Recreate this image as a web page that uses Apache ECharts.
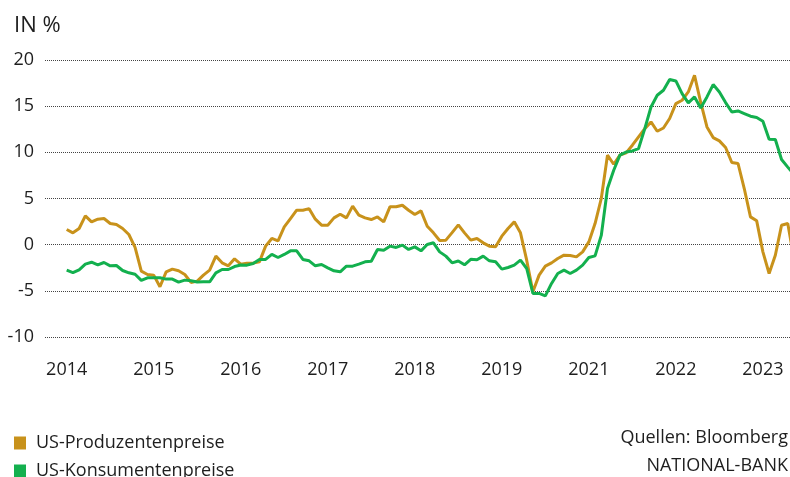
<!DOCTYPE html>
<html>
<head>
<meta charset="utf-8">
<script src="https://cdn.jsdelivr.net/npm/echarts@6/dist/echarts.min.js"></script>
<style>
  html, body { margin: 0; padding: 0; background: #fff; }
  #chart { width: 790px; height: 477px; }
</style>
</head>
<body>
<div id="chart"></div>
<script>
// Monate Jan 2014 .. Okt 2023
var months = [];
for (var y = 2014; y <= 2023; y++) {
  for (var m = 1; m <= 12; m++) {
    if (months.length < 118) months.push(y + '-' + (m < 10 ? '0' + m : m));
  }
}

// US-Produzentenpreise, % ggü. Vorjahr
var ppi = [
  1.64, 1.28, 1.75, 3.12, 2.47, 2.76, 2.83, 2.29, 2.18, 1.75,
  1.10, -0.3, -2.87, -3.23, -3.30, -4.56, -2.94, -2.65, -2.83, -3.23,
  -4.09, -3.95, -3.30, -2.76, -1.24, -1.97, -2.29, -1.53, -2.11, -2.0,
  -2.0, -1.86, -0.16, 0.67, 0.4, 1.93, 2.83, 3.73, 3.73, 3.9,
  2.76, 2.11, 2.11, 2.9, 3.3, 2.9, 4.17, 3.19, 2.9, 2.72,
  3.0, 2.47, 4.1, 4.1, 4.27, 3.73, 3.27, 3.66, 2.0, 1.28,
  0.45, 0.49, 1.3, 2.15, 1.28, 0.49, 0.67, 0.2, -0.16, -0.23,
  0.92, 1.75, 2.47, 1.28, -1.68, -5.1, -3.3, -2.33, -1.97, -1.5,
  -1.14, -1.17, -1.32, -0.78, 0.3, 2.29, 5.0, 9.69, 8.71, 9.69,
  9.94, 10.77, 11.67, 12.57, 13.29, 12.28, 12.64, 13.66, 15.28, 15.64,
  16.54, 18.34, 15.4, 12.75, 11.6, 11.24, 10.52, 8.9, 8.79, 6.08,
  3.01, 2.58, -0.78, -3.12, -1.14, 2.11, 2.29, -1.5
];

// US-Konsumentenpreise, % ggü. Vorjahr
var cpi = [
  -2.76, -3.03, -2.72, -2.11, -1.9, -2.2, -1.93, -2.29, -2.26, -2.8,
  -3.05, -3.2, -3.87, -3.59, -3.59, -3.59, -3.73, -3.73, -4.05, -3.84,
  -3.9, -4.05, -4.02, -4.02, -3.05, -2.69, -2.69, -2.37, -2.2, -2.22,
  -2.04, -1.6, -1.6, -1.06, -1.39, -1.06, -0.67, -0.67, -1.6, -1.75,
  -2.29, -2.15, -2.51, -2.83, -2.94, -2.33, -2.33, -2.11, -1.86, -1.79,
  -0.52, -0.6, -0.16, -0.3, -0.05, -0.52, -0.24, -0.67, 0.02, 0.2,
  -0.78, -1.24, -1.97, -1.77, -2.18, -1.58, -1.64, -1.24, -1.75, -1.86,
  -2.65, -2.47, -2.22, -1.68, -2.58, -5.28, -5.28, -5.54, -4.2, -3.12,
  -2.76, -3.12, -2.76, -2.22, -1.39, -1.21, 1.0, 6.08, 8.06, 9.69,
  10.04, 10.15, 10.41, 12.57, 14.91, 16.18, 16.72, 17.88, 17.73, 16.36,
  15.35, 16.0, 14.8, 16.0, 17.34, 16.54, 15.39, 14.37, 14.48, 14.2,
  13.91, 13.77, 13.37, 11.42, 11.39, 9.22, 8.4, 7.6
];

// Beschriftung der x-Achse: alle 14 Monate (wie im Original)
var xTickIdx = [0, 14, 28, 42, 56, 70, 84, 98, 112];
var yTicks = [-10, -5, 0, 5, 10, 15, 20];

var seriesNames = ['US-Produzentenpreise', 'US-Konsumentenpreise'];
var colors = ['#C8921B', '#13B04E'];
var font = '"Open Sans", "Noto Sans", sans-serif';
var textColor = '#1e1e1e';

function pairs(arr) {
  return arr.map(function (v, i) { return [i, v]; });
}

function legendRow(name, top) {
  return {
    left: 9,
    top: top,
    icon: 'rect',
    itemWidth: 12,
    itemHeight: 13,
    itemGap: 0,
    textStyle: { fontSize: 18, color: textColor, fontFamily: font, padding: [0, 0, 0, 5] },
    data: [name]
  };
}

var chart = echarts.init(document.getElementById('chart'));
chart.setOption({
  animation: false,
  color: colors,
  textStyle: { fontFamily: font },
  title: {
    text: 'IN %',
    left: 9,
    top: 10,
    textStyle: { fontSize: 22, fontWeight: 'normal', color: textColor, fontFamily: font }
  },
  grid: { left: 45, right: 0, top: 60, bottom: 140, containLabel: false },
  xAxis: {
    type: 'value',
    min: -3.49,
    max: 116.36,
    axisLine: { show: false },
    axisTick: { show: false },
    splitLine: { show: false },
    axisLabel: {
      customValues: xTickIdx,
      margin: 24,
      fontSize: 18,
      color: textColor,
      fontFamily: font,
      formatter: function (v) {
        return months[Math.round(v)].slice(0, 4);
      }
    }
  },
  yAxis: {
    type: 'value',
    min: yTicks[0],
    max: yTicks[yTicks.length - 1],
    interval: 5,
    axisLine: { show: false },
    axisTick: { show: false },
    axisLabel: { margin: 11, fontSize: 18, color: textColor, fontFamily: font },
    splitLine: { lineStyle: { color: '#444', width: 1, type: [1, 1] } }
  },
  legend: [legendRow(seriesNames[0], 429), legendRow(seriesNames[1], 457)],
  graphic: [
    { type: 'text', right: 2, top: 429, style: { text: 'Quellen: Bloomberg', font: '18px ' + font, fill: textColor } },
    { type: 'text', right: 2, top: 457, style: { text: 'NATIONAL-BANK', font: '18px ' + font, fill: textColor } }
  ],
  series: [
    {
      name: seriesNames[0],
      type: 'line',
      data: pairs(ppi),
      showSymbol: false,
      lineStyle: { width: 3, color: colors[0] },
      itemStyle: { color: colors[0] }
    },
    {
      name: seriesNames[1],
      type: 'line',
      data: pairs(cpi),
      showSymbol: false,
      lineStyle: { width: 3, color: colors[1] },
      itemStyle: { color: colors[1] }
    }
  ]
});
</script>
</body>
</html>
